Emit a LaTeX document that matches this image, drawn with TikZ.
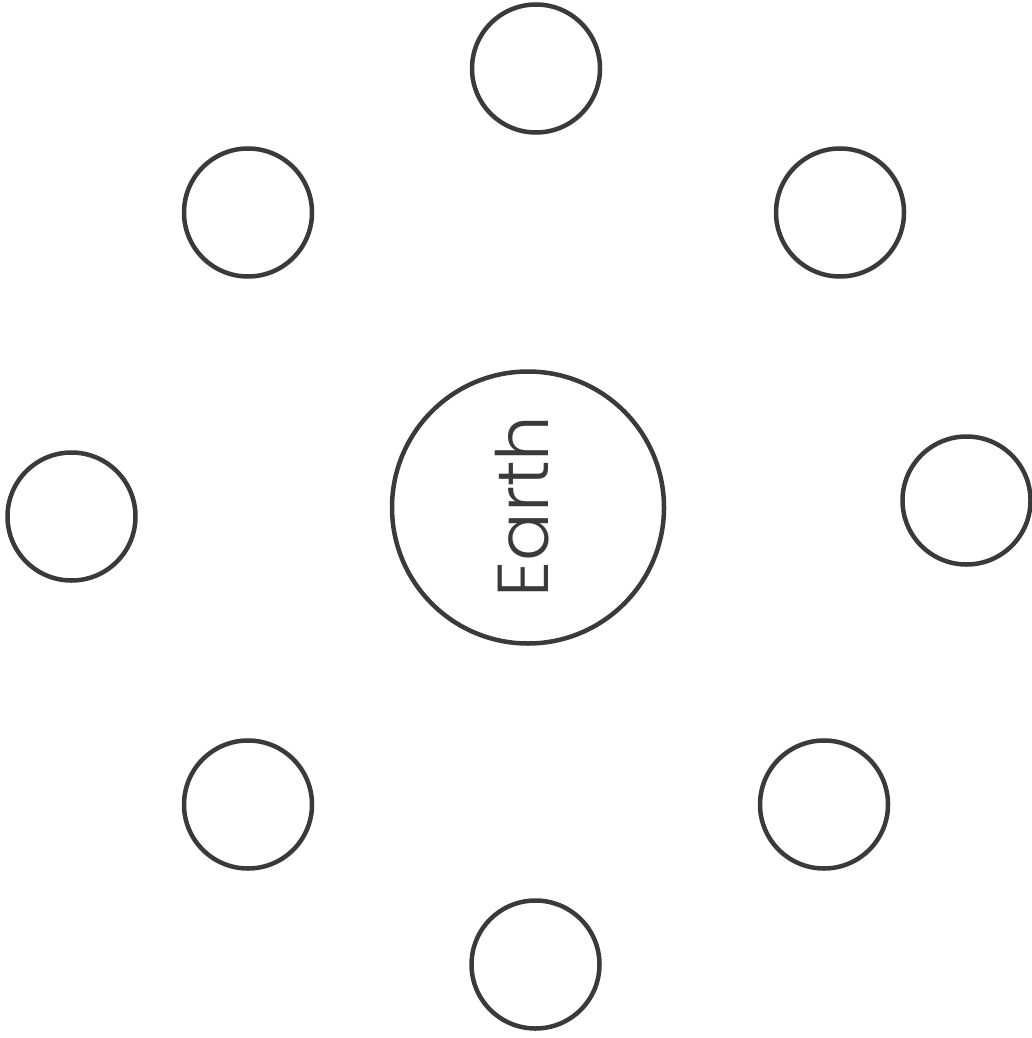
\documentclass[tikz,border=0pt]{standalone}
\usepackage{fontspec}
\newfontfamily\earthfont{Poppins Light}
\definecolor{ringgray}{HTML}{3A3A3A}

\begin{document}
\begin{tikzpicture}[x=1pt,y=-1pt,
  moon/.style={circle,draw=ringgray,line width=4.5pt,minimum size=128pt,inner sep=0pt},
  planet/.style={circle,draw=ringgray,line width=4.5pt,minimum size=272pt,inner sep=0pt}]

\useasboundingbox (0,0) rectangle (1031,1038);

% --- EARTH AT THE CENTRE ---
\node[planet] (earth) at (528,507.5) {};
\node[rotate=90,inner sep=0pt,text=ringgray,font=\earthfont\fontsize{72}{76}\selectfont]
  (earthlabel) at (522,506.5) {Earth};

% --- EMPTY RINGS AROUND IT ---
\foreach \name/\x/\y in {top/536/68.5, upleft/248/212.5, upright/840/212.5,
    left/71.5/516.5, right/966.5/500.5, lowleft/248/804.5,
    lowright/824/804.5, bottom/535.5/964.5} {
    \node[moon] (\name) at (\x,\y) {};
}

\end{tikzpicture}
\end{document}
